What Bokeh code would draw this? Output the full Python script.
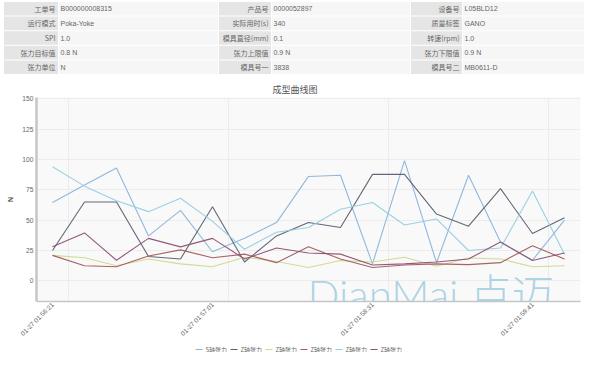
import math
from bokeh.plotting import figure
from bokeh.models import (FixedTicker, Label, Range1d)
from bokeh.embed import file_html
from bokeh.resources import INLINE
from bokeh.core.properties import value

# ---------------- info table ----------------
labels_col1 = ["工单号", "运行模式", "SPI", "张力目标值", "张力单位"]
values_col1 = ["B000000008315", "Poka-Yoke", "1.0", "0.8 N", "N"]
labels_col2 = ["产品号", "实际用时(s)", "模具直径(mm)", "张力上限值", "模具号一"]
values_col2 = ["0000052897", "340", "0.1", "0.9 N", "3838"]
labels_col3 = ["设备号", "质量标签", "转速(rpm)", "张力下限值", "模具号二"]
values_col3 = ["L05BLD12", "GANO", "1.0", "0.9 N", "MB0611-D"]

# ---------------- chart data ----------------
x_labels = ["01-27 01:56:21", "01-27 01:57:01", "01-27 01:58:31", "01-27 01:59:41"]
x_label_idx = [0, 5, 10, 15]
series_names = ["S轴张力", "Z轴张力", "Z轴张力", "Z轴张力", "Z轴张力", "Z轴张力"]
s1 = [64.5, 79, 93, 37, 58, 24, 35, 48, 86, 87, 14, 99, 15, 87, 32, 17, 50]
s2 = [25, 65, 65, 20, 18, 61, 15.5, 37, 48, 44, 87.7, 87.7, 55, 45, 76, 39, 52]
s3 = [21, 19, 12.4, 18, 14, 11.6, 19.4, 16, 11, 16.7, 15.5, 19.4, 12, 18.8, 18, 11.6, 12.4]
s4 = [21, 12.5, 11.6, 20.5, 25.5, 19, 22, 15, 28, 18, 11, 13, 14, 13.4, 15, 29, 18]
s5 = [94, 78, 66, 57, 68, 49, 26, 40, 44, 59, 64.5, 46, 51, 25, 27, 74, 22]
s6 = [28, 39.5, 17, 35, 28, 35, 18, 27, 23, 22, 13, 14, 15.5, 18, 32, 16.7, 23]
series = [s1, s2, s3, s4, s5, s6]
colors = ["#8ab4da", "#5b6070", "#cdd98f", "#a45a5e", "#93cfe2", "#8e4f74"]

CJK = "Noto Sans CJK SC"
W = 584

# ---------------- table figure (own root) ----------------
TH = 74
tbl = figure(width=W, height=TH, x_range=Range1d(0, W), y_range=Range1d(TH, 0),
             output_backend="svg", toolbar_location=None, min_border=0,
             x_axis_location=None, y_axis_location=None)
tbl.grid.visible = False
tbl.outline_line_color = None

cols = [(3, 58, 218), (218, 271, 410), (410, 462, 584)]  # left, split, right
label_sets = [labels_col1, labels_col2, labels_col3]
value_sets = [values_col1, values_col2, values_col3]
rh = 14.6
y0 = 1
rx, ry, rw, rhh, rc = [], [], [], [], []
lab_x, lab_y, lab_t = [], [], []
val_x, val_y, val_t = [], [], []
for c, (l0, split, r1) in enumerate(cols):
    for r in range(5):
        yc = y0 + r * rh + rh / 2
        rx.append((l0 + split) / 2); ry.append(yc); rw.append(split - l0 - 1); rhh.append(rh - 1); rc.append("#e5e5e5")
        rx.append((split + r1) / 2); ry.append(yc); rw.append(r1 - split - 1); rhh.append(rh - 1); rc.append("#f6f6f6")
        lab_x.append(split - 3); lab_y.append(yc); lab_t.append(label_sets[c][r])
        val_x.append(split + 2); val_y.append(yc); val_t.append(value_sets[c][r])
tbl.rect(x=rx, y=ry, width=rw, height=rhh, fill_color=rc, line_color=None)
tbl.text(x=lab_x, y=lab_y, text=lab_t, text_align="right", text_baseline="middle",
         text_font_size="7px", text_color="#666666", text_font=value(CJK))
tbl.text(x=val_x, y=val_y, text=val_t, text_align="left", text_baseline="middle",
         text_font_size="7px", text_color="#666666", text_font=value("Liberation Sans"))

# ---------------- chart figure (own root) ----------------
LH = 10
CH = 352 - TH - LH
p = figure(width=W, height=CH, x_range=Range1d(-0.5, 16.5), y_range=Range1d(-17, 151),
           output_backend="svg", toolbar_location=None,
           min_border_left=36, min_border_right=4, min_border_top=23, min_border_bottom=40)
p.background_fill_color = "#f9f9f9"
p.border_fill_color = "white"
p.outline_line_color = None

p.title.text = "成型曲线图"
p.title.align = "left"
p.title.offset = 236
p.title.standoff = 4
p.title.text_font = CJK
p.title.text_font_size = "9px"
p.title.text_font_style = "normal"
p.title.text_color = "#555555"

xs = list(range(len(s1)))
for ys, col in zip(series, colors):
    p.line(xs, ys, line_color=col, line_width=1.1, line_alpha=0.95)

p.xaxis.ticker = FixedTicker(ticks=x_label_idx)
p.xaxis.major_label_overrides = {k: v for k, v in zip(x_label_idx, x_labels)}
p.xaxis.major_label_orientation = math.pi / 4
p.xaxis.major_label_text_font_size = "6.5px"
p.xaxis.major_label_text_color = "#666666"
p.xaxis.major_label_standoff = 2
p.xaxis.major_tick_out = 0
p.xaxis.major_tick_in = 0
p.xaxis.major_tick_line_color = None
p.xaxis.minor_tick_line_color = None
p.xaxis.axis_line_color = "#c6c6c6"
p.xaxis.axis_line_width = 1.5
p.xgrid.ticker = FixedTicker(ticks=[0.5, 5.5, 10.5, 15.5])
p.xgrid.grid_line_color = "#ececec"

p.yaxis.ticker = FixedTicker(ticks=[0, 25, 50, 75, 100, 125, 150])
p.yaxis.major_label_text_font_size = "6.7px"
p.yaxis.major_label_text_color = "#666666"
p.yaxis.major_label_standoff = 3
p.yaxis.major_tick_out = 0
p.yaxis.major_tick_in = 0
p.yaxis.major_tick_line_color = None
p.yaxis.minor_tick_line_color = None
p.yaxis.axis_line_color = "#c6c6c6"
p.yaxis.axis_line_width = 2.5
p.yaxis.axis_label = "N"
p.yaxis.axis_label_text_font_size = "7px"
p.yaxis.axis_label_text_font_style = "bold"
p.yaxis.axis_label_text_color = "#444444"
p.yaxis.axis_label_standoff = 5
p.ygrid.grid_line_color = "#ececec"

p.add_layout(Label(x=7.97, y=-10.5, text="DianMai 点迈",
                   text_align="left", text_baseline="alphabetic", text_font_size="42px",
                   text_color="#9fcde2", text_alpha=0.85,
                   text_font="Lato Light, Noto Sans CJK SC Light, Noto Sans CJK SC, sans-serif"))

# ---------------- legend strip (own root) ----------------
leg = figure(width=W, height=LH, x_range=Range1d(0, W), y_range=Range1d(0, LH),
             output_backend="svg", toolbar_location=None, min_border=0,
             x_axis_location=None, y_axis_location=None)
leg.grid.visible = False
leg.outline_line_color = None
item_x = [195 + 35 * i for i in range(len(series_names))]
leg.segment(x0=item_x, y0=[LH / 2] * len(item_x), x1=[x + 7 for x in item_x],
            y1=[LH / 2] * len(item_x), line_color=colors, line_width=1.2)
leg.text(x=[x + 10 for x in item_x], y=[LH / 2] * len(item_x), text=series_names,
         text_align="left", text_baseline="middle", text_font_size="6px",
         text_color="#666666", text_font=value(CJK))

open("out.html", "w").write(file_html([tbl, p, leg], INLINE))
